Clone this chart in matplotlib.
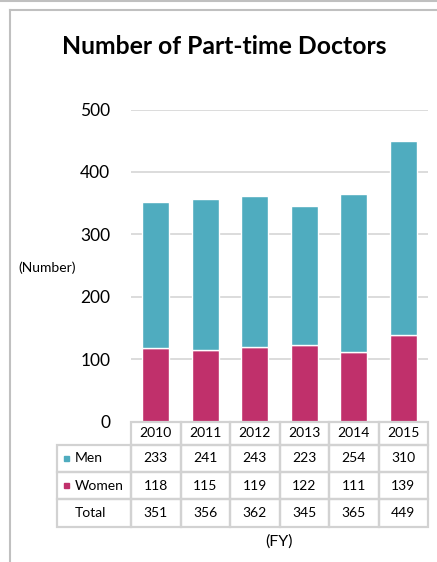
import matplotlib
matplotlib.use('Agg')
import matplotlib.pyplot as plt
from matplotlib.patches import Rectangle
from matplotlib.lines import Line2D

# datos
years = ['2010', '2011', '2012', '2013', '2014', '2015']
men = [233, 241, 243, 223, 254, 310]
women = [118, 115, 119, 122, 111, 139]
totals = [351, 356, 362, 345, 365, 449]
yticks = [0, 100, 200, 300, 400, 500]

C_MEN = '#4FACBF'
C_WOMEN = '#C0306B'
GRID = '#D9D9D9'
plt.rcParams['font.family'] = ['Lato', 'DejaVu Sans']

W, H = 437, 562
fig = plt.figure(figsize=(W / 100, H / 100), dpi=100)


def fx(px):
    return px / W


def fy(py):
    return 1 - py / H


# ejes: x de 131 a 428 px, y=0 en 421.5 px, y=500 en 109.5 px
ax = fig.add_axes([fx(131), fy(421.5), fx(428) - fx(131), fy(109.5) - fy(421.5)])
x = list(range(len(years)))
ax.bar(x, women, width=0.55, color=C_WOMEN, edgecolor='white', linewidth=1, zorder=3)
ax.bar(x, men, bottom=women, width=0.55, color=C_MEN, edgecolor='white', linewidth=1, zorder=3)
ax.set_xlim(-0.5, 5.5)
ax.set_ylim(0, 500)
ax.set_yticks(yticks)
ax.set_yticklabels([str(v) for v in yticks], fontsize=12.5)
ax.tick_params(axis='y', length=0, pad=15)
ax.set_xticks([])
for s in ax.spines.values():
    s.set_visible(False)
ax.yaxis.grid(True, color=GRID, linewidth=1.3, zorder=0)

fig.text(fx(224), fy(47), 'Number of Part-time Doctors', fontsize=17.8,
         fontweight='bold', ha='center', va='center')
fig.text(fx(47), fy(268), '(Number)', fontsize=10, ha='center', va='center')
fig.text(fx(279), fy(542), '(FY)', fontsize=11.5, ha='center', va='center')

# tabla de datos
col_edges = [131 + i * (428 - 131) / 6 for i in range(7)]
row_edges = [421.5, 445, 472, 499, 527]
lab_left = 57
LC = '#D2D2D2'


def cell(x0, x1, y0, y1):
    fig.patches.append(Rectangle((fx(x0), fy(y1)), fx(x1) - fx(x0), fy(y0) - fy(y1),
                                 transform=fig.transFigure, fill=False,
                                 edgecolor=LC, linewidth=1.6))


for i, yr in enumerate(years):
    cx = (col_edges[i] + col_edges[i + 1]) / 2
    cell(col_edges[i], col_edges[i + 1], row_edges[0], row_edges[1])
    fig.text(fx(cx), fy((row_edges[0] + row_edges[1]) / 2), yr, fontsize=10,
             ha='center', va='center')

rows = [('Men', men, C_MEN), ('Women', women, C_WOMEN), ('Total', totals, None)]
for r, (name, vals, col) in enumerate(rows):
    y0, y1 = row_edges[r + 1], row_edges[r + 2]
    cy = (y0 + y1) / 2
    cell(lab_left, col_edges[0], y0, y1)
    if col:
        fig.patches.append(Rectangle((fx(64), fy(cy + 2.5)), fx(5), 5 / H,
                                     transform=fig.transFigure, color=col))
    fig.text(fx(75), fy(cy), name, fontsize=10, ha='left', va='center')
    for i, v in enumerate(vals):
        cx = (col_edges[i] + col_edges[i + 1]) / 2
        cell(col_edges[i], col_edges[i + 1], y0, y1)
        fig.text(fx(cx), fy(cy), str(v), fontsize=10, ha='center', va='center')

# marco
BC = '#C0C0C0'
fig.lines.append(Line2D([0, 1], [fy(0.7), fy(0.7)], transform=fig.transFigure,
                        color=BC, linewidth=1.5))
fig.lines.append(Line2D([fx(9.5), 1], [fy(9.5), fy(9.5)], transform=fig.transFigure,
                        color=BC, linewidth=1.5))
fig.lines.append(Line2D([fx(9.5), fx(9.5)], [fy(9.5), 0], transform=fig.transFigure,
                        color=BC, linewidth=1.5))

fig.savefig('out.png', dpi=100)
